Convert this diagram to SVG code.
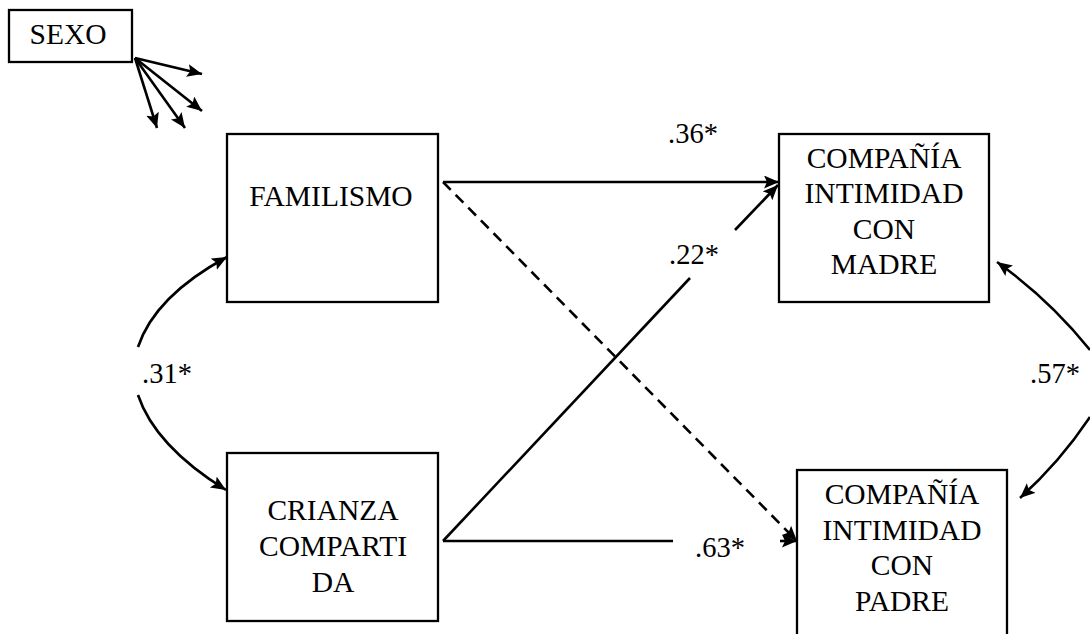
<svg xmlns="http://www.w3.org/2000/svg" width="1090" height="634" viewBox="0 0 1090 634">
<style>
.box{fill:#fff;stroke:#000;stroke-width:2.3}
.t{font-family:"Liberation Serif","Times New Roman",serif;font-size:29.5px;fill:#000;text-anchor:middle}
.lab{font-family:"Liberation Serif","Times New Roman",serif;font-size:28.5px;fill:#000}
.c{fill:none;stroke:#000;stroke-width:2.6}
</style>
<defs>
<marker id="ah" markerUnits="userSpaceOnUse" markerWidth="16" markerHeight="14" refX="15" refY="6.5" orient="auto">
<path d="M0,0 L15,6.5 L0,13 L3,6.5 z" fill="#000"/>
</marker>
</defs>
<rect width="1090" height="634" fill="#fff"/>
<g id="sexo">
<rect class="box" x="9" y="10" width="123" height="52"/>
<text class="t" x="68" y="44">SEXO</text>
</g>
<g id="familismo">
<rect class="box" x="227" y="134" width="211" height="168"/>
<text class="t" x="331" y="206">FAMILISMO</text>
</g>
<g id="crianza">
<rect class="box" x="227" y="453" width="211" height="168"/>
<text class="t" x="333" y="520">CRIANZA</text>
<text class="t" x="333" y="556">COMPARTI</text>
<text class="t" x="333" y="592">DA</text>
</g>
<g id="madre">
<rect class="box" x="779" y="134" width="210" height="168"/>
<text class="t" x="884" y="168">COMPAÑÍA</text>
<text class="t" x="884" y="203">INTIMIDAD</text>
<text class="t" x="884" y="239">CON</text>
<text class="t" x="884" y="274">MADRE</text>
</g>
<g id="padre">
<rect class="box" x="797" y="470" width="210" height="180"/>
<text class="t" x="902" y="504">COMPAÑÍA</text>
<text class="t" x="902" y="540">INTIMIDAD</text>
<text class="t" x="902" y="575">CON</text>
<text class="t" x="902" y="611">PADRE</text>
</g>
<g id="connectors">
<line class="c" x1="135" y1="58" x2="202" y2="74" marker-end="url(#ah)"/>
<line class="c" x1="135" y1="58" x2="202" y2="111" marker-end="url(#ah)"/>
<line class="c" x1="135" y1="58" x2="185" y2="128" marker-end="url(#ah)"/>
<line class="c" x1="135" y1="58" x2="157" y2="128" marker-end="url(#ah)"/>
<line class="c" x1="443" y1="182" x2="779" y2="182" marker-end="url(#ah)"/>
<line class="c" x1="443" y1="182" x2="797" y2="541" stroke-dasharray="11,7" marker-end="url(#ah)"/>
<line class="c" x1="443" y1="541" x2="690" y2="278"/>
<line class="c" x1="735" y1="230" x2="778" y2="185" marker-end="url(#ah)"/>
<line class="c" x1="443" y1="541" x2="673" y2="541"/>
<line class="c" x1="780" y1="541" x2="797" y2="541" marker-end="url(#ah)"/>
<path class="c" d="M138,347 Q155,296 227,257" marker-end="url(#ah)"/>
<path class="c" d="M138,395 Q155,446 226,490" marker-end="url(#ah)"/>
<path class="c" d="M1090,350 Q1050,300 997,262" marker-end="url(#ah)"/>
<path class="c" d="M1090,417 Q1060,462 1020,498" marker-end="url(#ah)"/>
</g>
<g id="labels">
<text class="lab" x="668" y="143">.36*</text>
<text class="lab" x="669" y="264">.22*</text>
<text class="lab" x="695" y="557">.63*</text>
<text class="lab" x="142" y="383">.31*</text>
<text class="lab" x="1030" y="383">.57*</text>
</g>
</svg>
